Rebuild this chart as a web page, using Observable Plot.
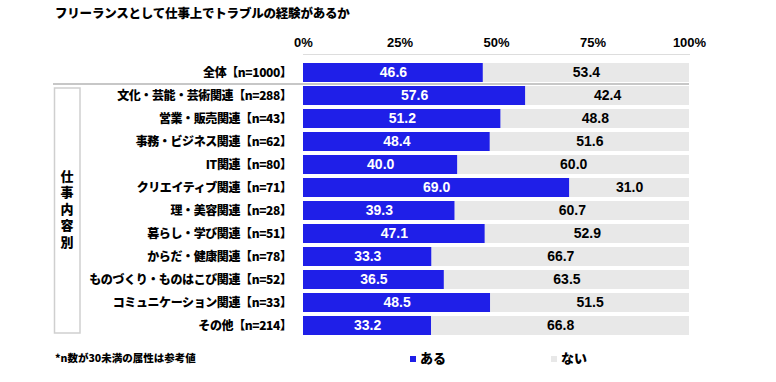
<!DOCTYPE html>
<html><head><meta charset="utf-8">
<script src="https://cdn.jsdelivr.net/npm/d3@7"></script>
<script src="https://cdn.jsdelivr.net/npm/@observablehq/plot@0.6"></script>
<style>
body{margin:0;background:#fff;}
#wrap{position:relative;width:776px;height:382px;font-family:"Noto Sans CJK JP",sans-serif;font-weight:900;color:#000;}
#title{position:absolute;left:55px;top:4px;font-size:12.5px;line-height:18px;white-space:nowrap;letter-spacing:-0.2px;}
#note{position:absolute;left:55px;top:349px;font-size:10.5px;line-height:18px;white-space:nowrap;}
#legend{position:absolute;left:0;top:349px;width:776px;height:18px;font-size:13px;line-height:18px;}
.li{position:absolute;top:0;white-space:nowrap;}
.sw{display:inline-block;width:6px;height:6px;margin-right:4px;vertical-align:1px;}
#chart{position:absolute;left:0;top:0;}
</style></head><body>
<div id="wrap">
<div id="chart"></div>
<div id="title">フリーランスとして仕事上でトラブルの経験があるか</div>
<div id="note">*n数が30未満の属性は参考値</div>
<div id="legend"></div>
</div>
<script>
const categories = [
  "全体【n=1000】",
  "文化・芸能・芸術関連【n=288】",
  "営業・販売関連【n=43】",
  "事務・ビジネス関連【n=62】",
  "IT関連【n=80】",
  "クリエイティブ関連【n=71】",
  "理・美容関連【n=28】",
  "暮らし・学び関連【n=51】",
  "からだ・健康関連【n=78】",
  "ものづくり・ものはこび関連【n=52】",
  "コミュニケーション関連【n=33】",
  "その他【n=214】"
];
const aru = [46.6, 57.6, 51.2, 48.4, 40.0, 69.0, 39.3, 47.1, 33.3, 36.5, 48.5, 33.2];
const nai = [53.4, 42.4, 48.8, 51.6, 60.0, 31.0, 60.7, 52.9, 66.7, 63.5, 51.5, 66.8];
const seriesNames = ["ある", "ない"];
const seriesColors = ["#1f1fe8", "#e8e8e8"];
const textColors = ["#ffffff", "#000000"];
const tickValues = [0, 25, 50, 75, 100];
const groupLabel = "仕事内容別";

const rows = [];
categories.forEach((c, i) => {
  rows.push({cat: c, series: seriesNames[0], value: aru[i]});
  rows.push({cat: c, series: seriesNames[1], value: nai[i]});
});

const chart = Plot.plot({
  width: 776,
  height: 382,
  marginTop: 54,
  marginBottom: 38,
  marginLeft: 303,
  marginRight: 87,
  style: {fontFamily: '"Noto Sans CJK JP", sans-serif', fontWeight: "900", color: "#000", background: "transparent"},
  x: {domain: [0, 100]},
  y: {domain: categories, padding: 0.16},
  color: {domain: seriesNames, range: seriesColors},
  marks: [
    Plot.frame({anchor: "top", stroke: "#dddddd"}),
    Plot.barX(rows, Plot.stackX({x: "value", y: "cat", fill: "series", order: seriesNames})),
    Plot.text(rows, Plot.stackX({
      x: "value", y: "cat", order: seriesNames,
      text: d => d.value.toFixed(1),
      fill: d => textColors[seriesNames.indexOf(d.series)],
      fontFamily: '"Liberation Sans", Arial, sans-serif',
      fontWeight: "bold",
      fontSize: 14
    })),
    Plot.axisX({anchor: "top", ticks: tickValues, tickFormat: d => d + "%", tickSize: 0, tickPadding: 8,
      fontSize: 13, fontFamily: '"Liberation Sans", Arial, sans-serif', fontWeight: "bold", label: null}),
    Plot.axisY({tickSize: 0, tickPadding: 12, fontSize: 12, fontWeight: "900", label: null})
  ]
});
document.getElementById("chart").appendChild(chart);
d3.select(chart).selectAll("g[aria-label='y-axis tick label'] text").style("letter-spacing", "-0.4px");

// decorations from scales
const y = chart.scale("y");
const x = chart.scale("x");
const bw = y.bandwidth;
const svg = d3.select(chart);
const sepY = (y.apply(categories[0]) + bw + y.apply(categories[1])) / 2;
svg.append("line")
  .attr("x1", 53).attr("x2", x.apply(100))
  .attr("y1", sepY).attr("y2", sepY)
  .attr("stroke", "#b4b4b4").attr("stroke-width", 1.5);
const boxTop = y.apply(categories[1]) + 2;
const boxBot = y.apply(categories[categories.length - 1]) + bw - 2;
svg.append("rect")
  .attr("x", 54.5).attr("y", boxTop).attr("width", 25.5).attr("height", boxBot - boxTop)
  .attr("fill", "none").attr("stroke", "#cfcfcf").attr("stroke-width", 1.5);
const mid = (boxTop + boxBot) / 2;
svg.append("text")
  .attr("x", 67).attr("y", mid)
  .attr("text-anchor", "middle")
  .style("writing-mode", "vertical-rl")
  .style("letter-spacing", "3.5px")
  .attr("font-size", 13).attr("font-weight", "900")
  .attr("font-family", '"Noto Sans CJK JP", sans-serif')
  .text(groupLabel);

// legend
const legendX = [410, 551];
const lg = document.getElementById("legend");
seriesNames.forEach((s, i) => {
  const d = document.createElement("div");
  d.className = "li";
  d.style.left = legendX[i] + "px";
  d.innerHTML = `<span class="sw" style="background:${seriesColors[i]}"></span>${s}`;
  lg.appendChild(d);
});
</script>
</body></html>
